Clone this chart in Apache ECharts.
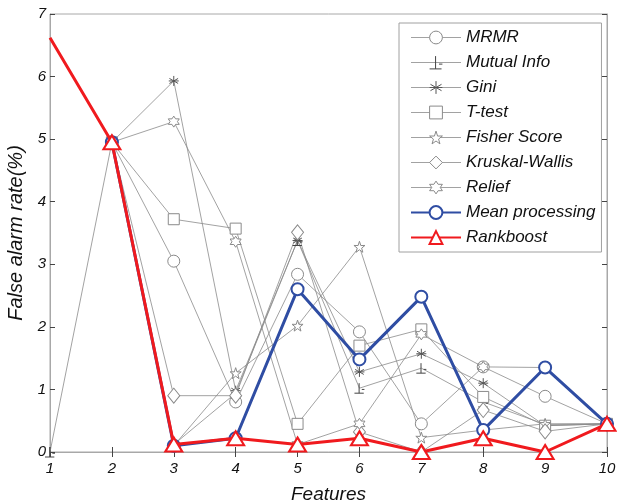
<!DOCTYPE html>
<html>
<head>
<meta charset="utf-8">
<script src="https://cdn.jsdelivr.net/npm/echarts@6/dist/echarts.min.js"></script>
<style>
html,body{margin:0;padding:0;background:#fff;}
#chart{width:617px;height:500px;}
</style>
</head>
<body>
<div id="chart"></div>
<script>
const features = [1, 2, 3, 4, 5, 6, 7, 8, 9, 10];
const yTicks = [0, 1, 2, 3, 4, 5, 6, 7];
const mrmr       = [null, 4.95, 3.05, 0.80, 2.84, 1.92, 0.45, 1.36, 0.89, 0.45];
const mutualInfo = [0.00, 4.95, 0.12, 0.94, 3.38, 1.02, 1.34, 0.80, 0.44, 0.45];
const gini       = [null, 4.95, 5.93, 0.98, 3.38, 1.28, 1.57, 1.10, 0.42, 0.45];
const tTest      = [null, 4.95, 3.72, 3.57, 0.45, 1.70, 1.96, 0.88, 0.42, 0.45];
const fisher     = [null, 4.95, 0.10, 1.26, 2.02, 3.28, 0.23, 0.35, 0.45, 0.45];
const kruskal    = [null, 4.95, 0.90, 0.90, 3.51, 0.32, 0.00, 0.67, 0.33, 0.45];
const relief     = [null, 4.95, 5.28, 3.36, 0.12, 0.45, 1.88, 1.36, 1.35, 0.45];
const meanProc   = [null, 4.95, 0.10, 0.22, 2.60, 1.48, 2.48, 0.35, 1.35, 0.45];
const rankboost  = [6.62, 4.95, 0.12, 0.22, 0.12, 0.22, 0.00, 0.22, 0.00, 0.45];

const FONT = 'Liberation Sans, Arial, sans-serif';
const GRAY = '#8a8a8a';

const SYM = {
  star: 'path://M50,0 L61.8,35.1 L97.6,34.5 L69.1,56.7 L79.4,90.5 L50,70 L20.6,90.5 L30.9,56.7 L2.4,34.5 L38.2,35.1 Z',
  hexagram: 'path://M50,0 L64.4,25 L93.3,25 L78.9,50 L93.3,75 L64.4,75 L50,100 L35.6,75 L6.7,75 L21.1,50 L6.7,25 L35.6,25 Z',
  asterisk: 'path://M50,0 L50,100 M6.7,25 L93.3,75 M6.7,75 L93.3,25 M0,50 L100,50',
  plus: 'path://M50,10 L50,90 M15,90 L85,90 M70,60 L90,60'
};

function pairs(arr) {
  const out = [];
  features.forEach((f, i) => { if (arr[i] !== null) out.push([f, arr[i]]); });
  return out;
}

function graySeries(name, arr, symbol, size, border) {
  return {
    name: name, type: 'line', data: pairs(arr),
    symbol: symbol, symbolSize: size,
    lineStyle: { color: GRAY, width: 0.8 },
    itemStyle: { color: '#fff', borderColor: border || GRAY, borderWidth: 1 },
    emphasis: { disabled: true }, z: 2
  };
}

const rankData = pairs(rankboost).map((p, i) => (i === 0 ? { value: p, symbol: 'none' } : p));

const series = [
  graySeries('MRMR', mrmr, 'circle', 12),
  graySeries('Mutual Info', mutualInfo, SYM.plus, 10, '#444'),
  graySeries('Gini', gini, SYM.asterisk, 10, '#555'),
  graySeries('T-test', tTest, 'rect', 11),
  graySeries('Fisher Score', fisher, SYM.star, 11),
  graySeries('Kruskal-Wallis', kruskal, 'diamond', [12, 15]),
  graySeries('Relief', relief, SYM.hexagram, 11),
  {
    name: 'Mean processing', type: 'line', data: pairs(meanProc),
    symbol: 'emptyCircle', symbolSize: 12,
    lineStyle: { color: '#2f4da3', width: 3 },
    itemStyle: { color: '#2f4da3', borderColor: '#2f4da3', borderWidth: 3 },
    emphasis: { disabled: true }, z: 3
  },
  {
    name: 'Rankboost', type: 'line', data: rankData,
    symbol: 'emptyTriangle', symbolSize: [17, 14],
    lineStyle: { color: '#f01a1e', width: 3 },
    itemStyle: { color: '#f01a1e', borderColor: '#f01a1e', borderWidth: 3 },
    emphasis: { disabled: true }, z: 4
  }
];

const legendData = series.map((s, i) => {
  if (i < 7) {
    return { name: s.name,
      lineStyle: { color: GRAY, width: 0.8 },
      itemStyle: { color: '#fff', borderColor: s.itemStyle.borderColor, borderWidth: 1 } };
  }
  return { name: s.name };
});

const chart = echarts.init(document.getElementById('chart'), null, { renderer: 'canvas' });
chart.setOption({
  animation: false,
  backgroundColor: '#fff',
  grid: { left: 50, right: 10, top: 14, bottom: 48, show: true, borderColor: '#a8a8a8', borderWidth: 1,
          containLabel: false, outerBoundsMode: 'none' },
  legend: {
    orient: 'vertical', left: 399, top: 23,
    padding: [6, 6, 6, 11], itemGap: 8,
    itemWidth: 50, itemHeight: 16,
    backgroundColor: '#fff', borderColor: '#a0a0a0', borderWidth: 1, borderRadius: 0,
    textStyle: { fontFamily: FONT, fontStyle: 'italic', fontSize: 17, color: '#111', lineHeight: 16 },
    data: legendData
  },
  xAxis: [{
    type: 'value', min: 1, max: 10, interval: 1, position: 'bottom',
    name: 'Features', nameLocation: 'middle', nameGap: 33,
    nameTextStyle: { fontFamily: FONT, fontStyle: 'italic', fontSize: 19, color: '#111' },
    axisLine: { show: true, lineStyle: { color: '#a8a8a8' } },
    axisTick: { show: true, inside: true, length: 5, lineStyle: { color: '#444' } },
    axisLabel: { fontFamily: FONT, fontStyle: 'italic', fontSize: 15, color: '#111', margin: 9 },
    splitLine: { show: false }
  }, {
    type: 'value', min: 1, max: 10, interval: 1, position: 'top',
    axisLine: { show: true, lineStyle: { color: '#a8a8a8' } },
    axisTick: { show: true, inside: true, length: 5, lineStyle: { color: '#444' } },
    axisLabel: { show: false }, splitLine: { show: false }
  }],
  yAxis: [{
    type: 'value', min: 0, max: 7, interval: 1, position: 'left',
    name: 'False alarm rate(%)', nameLocation: 'middle', nameGap: 19,
    nameTextStyle: { fontFamily: FONT, fontStyle: 'italic', fontSize: 20, color: '#111' },
    axisLine: { show: true, lineStyle: { color: '#a8a8a8' } },
    axisTick: { show: true, inside: true, length: 5, lineStyle: { color: '#444' } },
    axisLabel: { fontFamily: FONT, fontStyle: 'italic', fontSize: 15, color: '#111', margin: 4,
      formatter: v => (yTicks.indexOf(v) >= 0 ? String(v) : '') },
    splitLine: { show: false }
  }, {
    type: 'value', min: 0, max: 7, interval: 1, position: 'right',
    axisLine: { show: true, lineStyle: { color: '#a8a8a8' } },
    axisTick: { show: true, inside: true, length: 5, lineStyle: { color: '#444' } },
    axisLabel: { show: false }, splitLine: { show: false }
  }],
  series: series
});
</script>
</body>
</html>
